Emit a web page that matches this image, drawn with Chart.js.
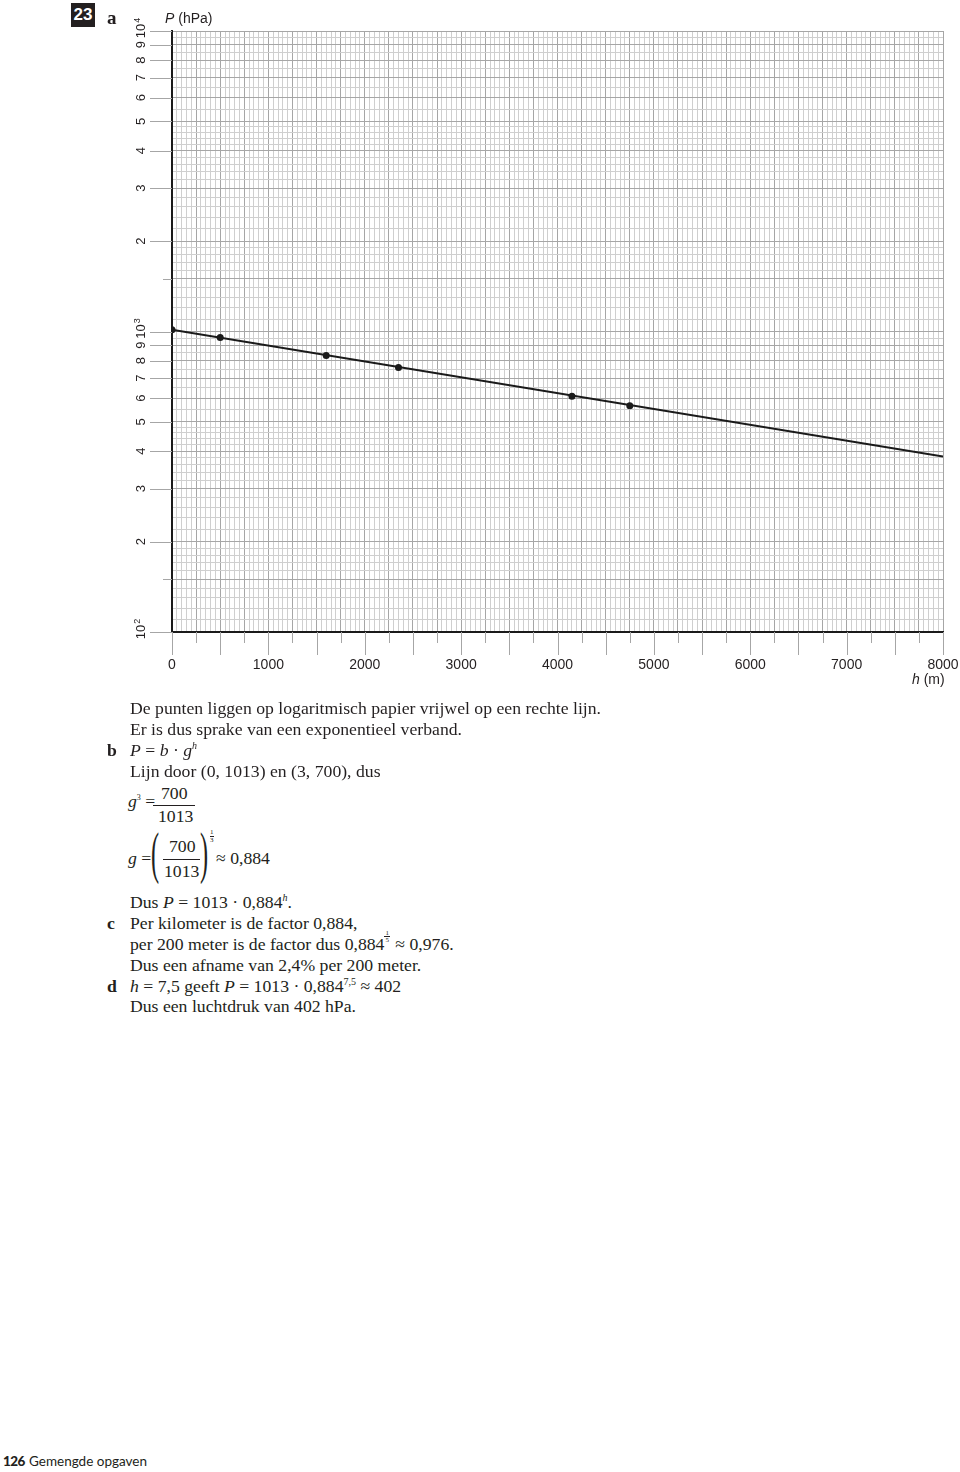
<!DOCTYPE html>
<html>
<head>
<meta charset="utf-8">
<script src="https://cdn.jsdelivr.net/npm/chart.js@4.4.1/dist/chart.umd.min.js"></script>
<style>
  body { margin: 0; width: 960px; height: 1472px; position: relative; overflow: hidden; background: #fff; color: #231f20; font-family: 'Liberation Serif', 'Times New Roman', serif; }
  #wrap { position: absolute; left: 0; top: 0; width: 960px; height: 700px; }
  .t { position: absolute; font-size: 17.7px; line-height: 17.5px; white-space: nowrap; }
  .sans { font-family: 'Liberation Sans', Arial, sans-serif; }
  sup { font-size: 10px; line-height: 0; vertical-align: 7px; }
  .bar { position: absolute; height: 1px; background: #231f20; }
  .paren { position: absolute; font-size: 58px; line-height: 58px; transform: scaleX(0.42); transform-origin: left top; }
  .mini { display: inline-block; vertical-align: top; position: relative; top: -6px; font-size: 7px; line-height: 6px; text-align: center; margin: 0 1px 0 0; }
  .mini span { display: block; padding: 0 1px; }
  .mini span:first-child { border-bottom: 1px solid #231f20; }
  #badge { position: absolute; left: 71px; top: 3px; width: 24px; height: 24px; background: #231f20; color: #fff; font: bold 17px/24px 'Liberation Sans', Arial, sans-serif; text-align: center; }
</style>
</head>
<body>
<div id="wrap"><canvas id="chart" width="960" height="700"></canvas></div>

<div id="badge">23</div>
<div class="t" style="left:107px;top:8px;font-size:19px;line-height:19px;font-weight:bold">a</div>
<div class="t sans" style="left:165px;top:11px;font-size:14px;line-height:14px"><i>P</i> (hPa)</div>
<div class="t sans" style="left:912px;top:672px;font-size:14px;line-height:14px"><i>h</i> (m)</div>

<div class="t" style="left:130px;top:700px">De punten liggen op logaritmisch papier vrijwel op een rechte lijn.</div>
<div class="t" style="left:130px;top:721px">Er is dus sprake van een exponentieel verband.</div>
<div class="t" style="left:107px;top:742px;font-weight:bold">b</div>
<div class="t" style="left:130px;top:742px"><i>P</i> = <i>b</i> · <i>g</i><sup><i>h</i></sup></div>
<div class="t" style="left:130px;top:763px">Lijn door (0, 1013) en (3, 700), dus</div>

<div class="t" style="left:128px;top:793px"><i>g</i><sup style="font-size:8px">3</sup> =</div>
<div class="t" style="left:161px;top:785px">700</div>
<div class="bar" style="left:153px;top:805px;width:42px"></div>
<div class="t" style="left:158px;top:808px">1013</div>

<div class="t" style="left:128px;top:850px"><i>g</i> =</div>
<div class="paren" style="left:151px;top:824px">(</div>
<div class="t" style="left:169px;top:838px">700</div>
<div class="bar" style="left:163px;top:859px;width:37px"></div>
<div class="t" style="left:164px;top:863px">1013</div>
<div class="paren" style="left:200px;top:824px">)</div>
<div class="t" style="left:210px;top:829px;font-size:7px;line-height:7px;text-align:center"><div style="border-bottom:1px solid #231f20">1</div><div>3</div></div>
<div class="t" style="left:216px;top:850px">≈ 0,884</div>

<div class="t" style="left:130px;top:894px">Dus <i>P</i> = 1013 · 0,884<sup><i>h</i></sup>.</div>
<div class="t" style="left:107px;top:915px;font-weight:bold">c</div>
<div class="t" style="left:130px;top:915px">Per kilometer is de factor 0,884,</div>
<div class="t" style="left:130px;top:936px">per 200 meter is de factor dus 0,884<span class="mini"><span>1</span><span>5</span></span> ≈ 0,976.</div>
<div class="t" style="left:130px;top:957px">Dus een afname van 2,4% per 200 meter.</div>
<div class="t" style="left:107px;top:978px;font-weight:bold">d</div>
<div class="t" style="left:130px;top:978px"><i>h</i> = 7,5 geeft <i>P</i> = 1013 · 0,884<sup>7,5</sup> ≈ 402</div>
<div class="t" style="left:130px;top:998px">Dus een luchtdruk van 402 hPa.</div>

<div class="t" style="left:3px;top:1455px;font-family:Lato,sans-serif;font-size:13.5px;line-height:13px;font-weight:900;letter-spacing:-0.6px">126</div>
<div class="t" style="left:29px;top:1455px;font-family:Lato,sans-serif;font-size:13.5px;line-height:13px">Gemengde opgaven</div>

<script>
// measured points (h in m, P in hPa)
var heights = [0, 500, 1600, 2350, 4150, 4750];
var pressures = [1013, 955, 832, 759, 609, 566];

// straight line on log paper
var lineH = [0, 8000];
var lineP = [1013, 384];

var xTickVals = [0, 1000, 2000, 3000, 4000, 5000, 6000, 7000, 8000];
var xTickLabels = ['0', '1000', '2000', '3000', '4000', '5000', '6000', '7000', '8000'];

var yLabelVals = [100, 200, 300, 400, 500, 600, 700, 800, 900, 1000, 2000, 3000, 4000, 5000, 6000, 7000, 8000, 9000, 10000];
var yLabelText = ['10^2', '2', '3', '4', '5', '6', '7', '8', '9', '10^3', '2', '3', '4', '5', '6', '7', '8', '9', '10^4'];

var MINOR = '#cfcfcf';
var MAJOR = '#a6a6a6';

// graph paper grid
var xGrid = [];
for (var h = 0; h <= 8000; h += 50) xGrid.push(h);

var yGrid = [];
[100, 1000].forEach(function (d) {
  var v;
  for (v = d; v < 2 * d; v += d / 10) yGrid.push(Math.round(v));
  for (v = 2 * d; v < 5 * d; v += d / 5) yGrid.push(Math.round(v));
  for (v = 5 * d; v < 10 * d; v += d / 2) yGrid.push(Math.round(v));
});
yGrid.push(10000);

function isMajorY(v) {
  var d = Math.pow(10, Math.floor(Math.log10(v) + 1e-9));
  return v % d === 0 || v === 1.5 * d;
}

var axisText = {
  id: 'axisText',
  afterDraw: function (chart) {
    var ctx = chart.ctx;
    var xs = chart.scales.x, ys = chart.scales.y;
    var area = chart.chartArea;
    ctx.save();
    ctx.strokeStyle = MAJOR;
    ctx.lineWidth = 1;

    // tick marks left of the y axis
    yLabelVals.forEach(function (v) {
      var y = Math.round(ys.getPixelForValue(v)) + 0.5;
      ctx.beginPath(); ctx.moveTo(150, y); ctx.lineTo(area.left, y); ctx.stroke();
    });
    [150, 1500].forEach(function (v) {
      var y = Math.round(ys.getPixelForValue(v)) + 0.5;
      ctx.beginPath(); ctx.moveTo(163, y); ctx.lineTo(area.left, y); ctx.stroke();
    });

    // tick marks below the x axis
    for (var h = 0; h <= 8000; h += 250) {
      var x = Math.round(xs.getPixelForValue(h)) + 0.5;
      ctx.beginPath(); ctx.moveTo(x, area.bottom); ctx.lineTo(x, area.bottom + (h % 500 === 0 ? 23 : 11)); ctx.stroke();
    }

    ctx.fillStyle = '#231f20';
    ctx.font = '14px "Liberation Sans", Arial, sans-serif';
    ctx.textAlign = 'center';
    ctx.textBaseline = 'alphabetic';
    xTickVals.forEach(function (v, i) {
      ctx.fillText(xTickLabels[i], xs.getPixelForValue(v), 669);
    });

    // rotated y labels
    yLabelVals.forEach(function (v, i) {
      var y = ys.getPixelForValue(v);
      var parts = yLabelText[i].split('^');
      ctx.save();
      ctx.translate(145, y);
      ctx.rotate(-Math.PI / 2);
      ctx.font = '13px "Liberation Sans", Arial, sans-serif';
      ctx.textAlign = 'center';
      ctx.fillText(parts[0], 0, 0);
      if (parts[1]) {
        var w = ctx.measureText(parts[0]).width;
        ctx.font = '9px "Liberation Sans", Arial, sans-serif';
        ctx.textAlign = 'left';
        ctx.fillText(parts[1], w / 2 + 1, -5);
      }
      ctx.restore();
    });
    ctx.restore();
  }
};

new Chart(document.getElementById('chart'), {
  type: 'scatter',
  data: {
    datasets: [
      {
        data: lineH.map(function (h, i) { return { x: h, y: lineP[i] }; }),
        showLine: true,
        borderColor: '#1a1a1a',
        borderWidth: 2,
        pointRadius: 0
      },
      {
        data: heights.map(function (h, i) { return { x: h, y: pressures[i] }; }),
        showLine: false,
        pointRadius: 3.5,
        backgroundColor: '#1a1a1a',
        borderColor: '#1a1a1a',
        borderWidth: 0
      }
    ]
  },
  options: {
    responsive: false,
    animation: false,
    devicePixelRatio: 1,
    layout: { padding: { left: 172, right: 17, top: 31, bottom: 68 } },
    plugins: { legend: { display: false }, tooltip: { enabled: false } },
    scales: {
      x: {
        type: 'linear',
        min: 0,
        max: 8000,
        afterBuildTicks: function (s) { s.ticks = xGrid.map(function (v) { return { value: v }; }); },
        ticks: { display: false },
        grid: {
          drawTicks: false,
          lineWidth: 1,
          color: function (c) {
            var v = c.tick ? c.tick.value : -1;
            if (v === 0) return 'rgba(0,0,0,0)';
            return v % 250 === 0 ? MAJOR : MINOR;
          }
        },
        border: { color: '#1a1a1a', width: 2 }
      },
      y: {
        type: 'logarithmic',
        min: 100,
        max: 10000,
        afterBuildTicks: function (s) { s.ticks = yGrid.map(function (v) { return { value: v }; }); },
        ticks: { display: false },
        grid: {
          drawTicks: false,
          lineWidth: 1,
          color: function (c) {
            var v = c.tick ? c.tick.value : -1;
            if (v === 100) return 'rgba(0,0,0,0)';
            return isMajorY(v) ? MAJOR : MINOR;
          }
        },
        border: { color: '#1a1a1a', width: 2 }
      }
    }
  },
  plugins: [axisText]
});
</script>
</body>
</html>
